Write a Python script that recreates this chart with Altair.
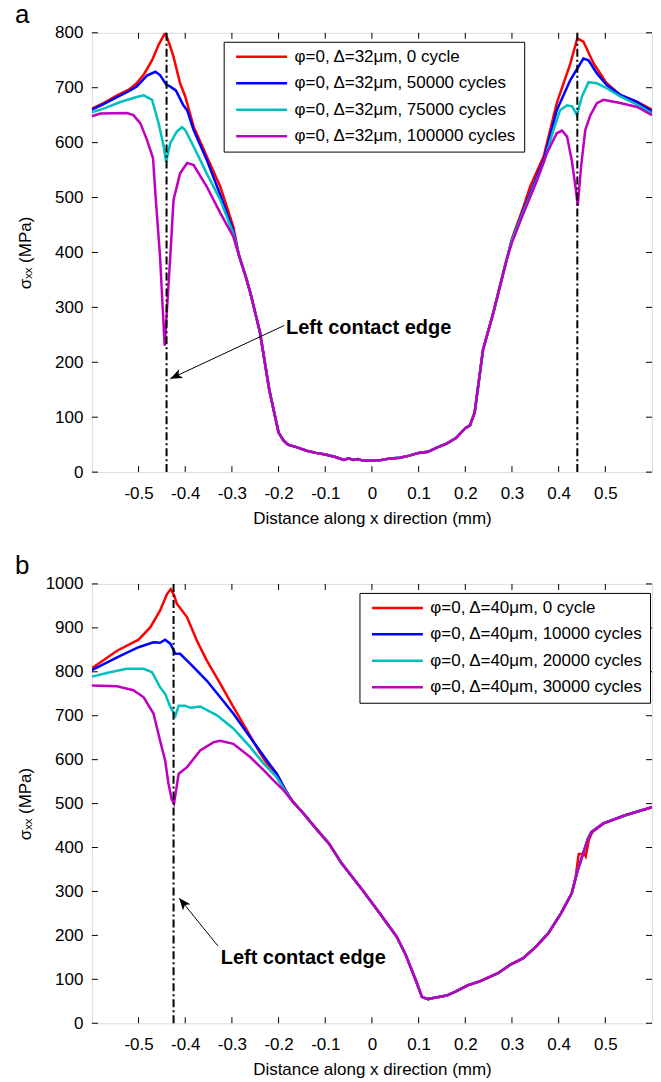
import math
import altair as alt
import pandas as pd

# ---------------- shared ----------------
COLORS = ["#ff0000", "#0000ff", "#00bfbf", "#bf00bf"]
X_TICKS = [-0.5, -0.4, -0.3, -0.2, -0.1, 0, 0.1, 0.2, 0.3, 0.4, 0.5]
X_DOMAIN = [-0.6, 0.6]

# ---------------- panel (a) ----------------
A_LABELS = ["φ=0, Δ=32μm, 0 cycle", "φ=0, Δ=32μm, 50000 cycles",
            "φ=0, Δ=32μm, 75000 cycles", "φ=0, Δ=32μm, 100000 cycles"]
A_YMAX = 800
A_EDGES = [-0.44, 0.44]

A_MID_X = [-0.285, -0.27, -0.26, -0.24, -0.22, -0.2, -0.19, -0.18, -0.16, -0.14, -0.12, -0.1,
           -0.08, -0.06, -0.05, -0.04, -0.03, -0.02, 0, 0.02, 0.04, 0.06, 0.08, 0.1, 0.12,
           0.14, 0.16, 0.18, 0.2, 0.21, 0.22, 0.238, 0.26, 0.288]
A_MID_Y = [395, 355, 325, 255, 150, 72, 58, 50, 45, 39, 35, 32, 28, 22, 25, 22, 24, 21, 21,
           22, 25, 26, 30, 35, 37, 45, 52, 62, 80, 85, 108, 223, 290, 385]

A0_LX = [-0.6, -0.575, -0.546, -0.52, -0.504, -0.488, -0.471, -0.457, -0.443, -0.434, -0.425,
         -0.411, -0.4, -0.382, -0.354, -0.325, -0.297]
A0_LY = [662, 672, 686, 697, 708, 725, 750, 778, 800, 780, 756, 708, 684, 629, 575, 520, 447]
A0_RX = [0.3, 0.325, 0.339, 0.368, 0.396, 0.425, 0.44, 0.453, 0.475, 0.503, 0.532, 0.568, 0.6]
A0_RY = [425, 484, 520, 575, 672, 744, 790, 784, 744, 708, 687, 674, 660]

A1_LX = [-0.6, -0.575, -0.546, -0.52, -0.504, -0.482, -0.464, -0.454, -0.441, -0.432, -0.42,
         -0.404, -0.396, -0.382, -0.354, -0.325, -0.297]
A1_LY = [660, 670, 683, 694, 702, 722, 729, 723, 706, 702, 695, 668, 659, 623, 569, 505, 440]
A1_RX = [0.3, 0.325, 0.368, 0.396, 0.425, 0.44, 0.453, 0.464, 0.482, 0.503, 0.532, 0.568, 0.6]
A1_RY = [423, 478, 569, 659, 714, 735, 753, 750, 726, 705, 687, 674, 657]

A2_LX = [-0.6, -0.575, -0.539, -0.504, -0.489, -0.471, -0.457, -0.446, -0.441, -0.432, -0.418,
         -0.407, -0.4, -0.382, -0.354, -0.325, -0.297]
A2_LY = [655, 662, 674, 683, 686, 678, 635, 593, 565, 599, 620, 628, 623, 593, 544, 496, 435]
A2_RX = [0.3, 0.325, 0.368, 0.389, 0.403, 0.418, 0.429, 0.439, 0.45, 0.464, 0.482, 0.503,
         0.532, 0.568, 0.6]
A2_RY = [422, 475, 563, 623, 659, 668, 666, 650, 684, 710, 708, 699, 684, 669, 653]

A3_LX = [-0.6, -0.582, -0.525, -0.511, -0.496, -0.482, -0.469, -0.463, -0.454, -0.444, -0.432,
         -0.425, -0.411, -0.396, -0.382, -0.354, -0.325, -0.297]
A3_LY = [648, 653, 654, 650, 635, 605, 572, 496, 393, 230, 393, 496, 544, 563, 559, 520, 472, 429]
A3_RX = [0.3, 0.325, 0.354, 0.375, 0.396, 0.407, 0.418, 0.428, 0.436, 0.441, 0.448, 0.457,
         0.468, 0.482, 0.496, 0.532, 0.568, 0.6]
A3_RY = [418, 472, 532, 581, 617, 622, 611, 568, 520, 485, 556, 623, 650, 672, 678, 672, 665, 650]

A_ARROW = {"x": [-0.188], "y": [267], "x2": [-0.432], "y2": [170]}
A_NOTE = {"x": [-0.184], "y": [262], "text": ["Left contact edge"]}

# ---------------- panel (b) ----------------
B_LABELS = ["φ=0, Δ=40μm, 0 cycle", "φ=0, Δ=40μm, 10000 cycles",
            "φ=0, Δ=40μm, 20000 cycles", "φ=0, Δ=40μm, 30000 cycles"]
B_YMAX = 1000
B_EDGES = [-0.425]

B_MID_X = [-0.17, -0.146, -0.123, -0.092, -0.065, -0.02, 0.017, 0.053, 0.071, 0.094, 0.107,
           0.12, 0.143, 0.16, 0.179, 0.206, 0.23, 0.27, 0.296, 0.324, 0.351, 0.378, 0.405, 0.428]
B_MID_Y = [505, 477, 447, 409, 364, 303, 250, 197, 159, 98, 60, 55, 60, 63, 72, 87, 95, 114,
           133, 148, 174, 205, 250, 296]

B0_LX = [-0.6, -0.546, -0.5, -0.475, -0.454, -0.439, -0.431, -0.424, -0.418, -0.411, -0.396,
         -0.375, -0.354, -0.325, -0.297, -0.268, -0.239, -0.225, -0.204, -0.185]
B0_LY = [808, 848, 873, 901, 939, 977, 988, 975, 955, 945, 924, 871, 826, 773, 720, 667, 614,
         591, 568, 530]
B0_RX = [0.436, 0.443, 0.455, 0.458, 0.465, 0.472, 0.496, 0.541, 0.6]
B0_RY = [330, 385, 386, 380, 418, 435, 455, 473, 492]

B1_LX = [-0.6, -0.546, -0.5, -0.468, -0.454, -0.443, -0.432, -0.421, -0.411, -0.389, -0.354,
         -0.325, -0.297, -0.261, -0.225, -0.204, -0.185]
B1_LY = [804, 833, 856, 867, 866, 873, 864, 841, 841, 818, 780, 742, 705, 651, 598, 568, 530]

B2_LX = [-0.6, -0.561, -0.525, -0.489, -0.471, -0.454, -0.443, -0.432, -0.421, -0.414, -0.4,
         -0.389, -0.368, -0.332, -0.297, -0.261, -0.232, -0.204, -0.185]
B2_LY = [789, 799, 807, 807, 799, 765, 750, 720, 700, 723, 723, 718, 721, 701, 671, 629, 591,
         560, 528]

B3_LX = [-0.6, -0.546, -0.511, -0.489, -0.468, -0.454, -0.443, -0.436, -0.429, -0.424, -0.414,
         -0.396, -0.368, -0.339, -0.325, -0.297, -0.261, -0.232, -0.211, -0.189]
B3_LY = [769, 767, 758, 742, 705, 644, 598, 546, 510, 500, 568, 583, 621, 640, 643, 636, 606,
         576, 553, 530]

B_RX = [0.44, 0.452, 0.462, 0.47, 0.496, 0.541, 0.6]
B_RY = [345, 385, 418, 435, 455, 473, 492]

B_ARROW = {"x": [-0.330], "y": [176], "x2": [-0.413], "y2": [285]}
B_NOTE = {"x": [-0.324], "y": [148], "text": ["Left contact edge"]}

W, H = 561, 440
TICK = 6
FONT = "Liberation Sans"


def series_frame(labels, parts):
    rows = []
    for lab, (xs, ys) in zip(labels, parts):
        for i, (xv, yv) in enumerate(zip(xs, ys)):
            rows.append({"x": xv, "y": yv, "series": lab, "k": i})
    return pd.DataFrame(rows)


def panel(df, labels, ymax, edges, arrow, note, tag, legend_x):
    xs = alt.Scale(domain=X_DOMAIN, nice=False, zero=False)
    ys = alt.Scale(domain=[0, ymax], nice=False, zero=True)
    yt = list(range(0, ymax + 1, 100))

    lines = alt.Chart(df).mark_line(strokeWidth=2.5, clip=True).encode(
        x=alt.X("x:Q", scale=xs, axis=alt.Axis(
            values=X_TICKS, labelExpr="'' + datum.value", ticks=False, domain=False,
            grid=False, title="Distance along x direction (mm)", labelFontSize=17,
            titleFontSize=17, titleFontWeight="normal", labelPadding=13, titlePadding=9,
            labelFlush=False, labelOverlap=False)),
        y=alt.Y("y:Q", scale=ys, axis=alt.Axis(
            values=yt, labelExpr="'' + datum.value", ticks=False, domain=False, grid=False,
            title="σₓₓ (MPa)", labelFontSize=17, titleFontSize=17, titleFontWeight="normal",
            labelPadding=9, titleX=-66, titleY=H / 2, titleBaseline="middle",
            labelFlush=False, labelOverlap=False)),
        color=alt.Color("series:N", scale=alt.Scale(domain=labels, range=COLORS),
                        legend=alt.Legend(
                            title=None, orient="none", legendX=legend_x, legendY=9,
                            symbolType="stroke", symbolSize=2601, symbolStrokeWidth=2.5,
                            labelFontSize=17, labelFont=FONT, labelColor="black",
                            strokeColor="black", fillColor="white", padding=7,
                            rowPadding=9.5, clipHeight=16, labelOffset=6, labelLimit=400,
                            symbolOffset=4)),
        order="k:Q",
    )

    # inward tick marks on all four sides (MATLAB box style)
    xt_df = pd.DataFrame({"v": X_TICKS})
    yt_df = pd.DataFrame({"v": yt})
    tick_style = dict(color="black", strokeWidth=1)
    xt_bottom = alt.Chart(xt_df).mark_rule(**tick_style).encode(
        x=alt.X("v:Q", scale=xs, axis=None), y=alt.value(H), y2=alt.value(H - TICK))
    xt_top = alt.Chart(xt_df).mark_rule(**tick_style).encode(
        x=alt.X("v:Q", scale=xs, axis=None), y=alt.value(0), y2=alt.value(TICK))
    yt_left = alt.Chart(yt_df).mark_rule(**tick_style).encode(
        y=alt.Y("v:Q", scale=ys, axis=None), x=alt.value(0), x2=alt.value(TICK))
    yt_right = alt.Chart(yt_df).mark_rule(**tick_style).encode(
        y=alt.Y("v:Q", scale=ys, axis=None), x=alt.value(W), x2=alt.value(W - TICK))

    edge = alt.Chart(pd.DataFrame({"x": edges})).mark_rule(
        color="black", strokeWidth=2, strokeDash=[8, 3, 2, 3]
    ).encode(x=alt.X("x:Q", scale=xs, axis=None), y=alt.value(0), y2=alt.value(H))

    adf = pd.DataFrame(arrow)
    dxp = (adf["x2"][0] - adf["x"][0]) * W / (X_DOMAIN[1] - X_DOMAIN[0])
    dyp = -(adf["y2"][0] - adf["y"][0]) * H / ymax
    ang = (math.degrees(math.atan2(dxp, -dyp)) + 360) % 360

    arrow_line = alt.Chart(adf).mark_rule(color="black", strokeWidth=1).encode(
        x=alt.X("x:Q", scale=xs, axis=None), y=alt.Y("y:Q", scale=ys, axis=None),
        x2="x2:Q", y2="y2:Q")
    arrow_head = alt.Chart(adf).mark_point(
        shape="M0,0L0.8,2L0,1.5L-0.8,2Z", filled=True, color="black", opacity=1,
        size=144, angle=ang
    ).encode(x=alt.X("x2:Q", scale=xs, axis=None), y=alt.Y("y2:Q", scale=ys, axis=None))

    note_t = alt.Chart(pd.DataFrame(note)).mark_text(
        align="left", baseline="middle", fontWeight="bold", fontSize=20, font=FONT,
        color="black"
    ).encode(x=alt.X("x:Q", scale=xs, axis=None), y=alt.Y("y:Q", scale=ys, axis=None),
             text="text:N")

    tag_t = alt.Chart(pd.DataFrame({"t": [tag]})).mark_text(
        align="left", baseline="alphabetic", fontSize=26, font=FONT, color="black"
    ).encode(x=alt.value(-77), y=alt.value(-10), text="t:N")

    return alt.layer(lines, xt_bottom, xt_top, yt_left, yt_right, edge, arrow_line,
                     arrow_head, note_t, tag_t
                     ).resolve_axis(x="independent", y="independent").properties(
        width=W, height=H)


df_a = series_frame(A_LABELS, [
    (A0_LX + A_MID_X + A0_RX, A0_LY + A_MID_Y + A0_RY),
    (A1_LX + A_MID_X + A1_RX, A1_LY + A_MID_Y + A1_RY),
    (A2_LX + A_MID_X + A2_RX, A2_LY + A_MID_Y + A2_RY),
    (A3_LX + A_MID_X + A3_RX, A3_LY + A_MID_Y + A3_RY),
])
df_b = series_frame(B_LABELS, [
    (B0_LX + B_MID_X + B0_RX, B0_LY + B_MID_Y + B0_RY),
    (B1_LX + B_MID_X + B_RX, B1_LY + B_MID_Y + B_RY),
    (B2_LX + B_MID_X + B_RX, B2_LY + B_MID_Y + B_RY),
    (B3_LX + B_MID_X + B_RX, B3_LY + B_MID_Y + B_RY),
])

top = panel(df_a, A_LABELS, A_YMAX, A_EDGES, A_ARROW, A_NOTE, "a", 132)
bottom = panel(df_b, B_LABELS, B_YMAX, B_EDGES, B_ARROW, B_NOTE, "b", 268)

chart = alt.vconcat(top, bottom, spacing=25).resolve_scale(
    color="independent", x="independent", y="independent"
).properties(
    padding={"left": 6, "top": -8, "right": 0, "bottom": 0}
).configure_view(stroke="black", strokeWidth=1.2).configure_axis(
    labelFont=FONT, titleFont=FONT, labelColor="black", titleColor="black",
    titleFontWeight="normal", grid=False
).configure(background="white")

chart.save("out.html", embed_options={"renderer": "svg", "actions": False})
